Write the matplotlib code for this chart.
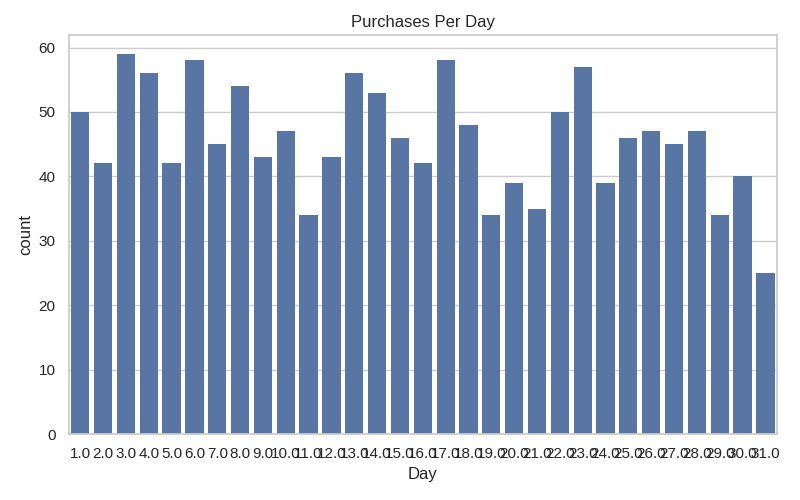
import numpy as np
import matplotlib
matplotlib.use("Agg")
import matplotlib.pyplot as plt
import seaborn as sns

days = [float(d) for d in range(1, 32)]
counts = [50, 42, 59, 56, 42, 58, 45, 54, 43, 47, 34, 43, 56, 53, 46, 42,
          58, 48, 34, 39, 35, 50, 57, 39, 46, 47, 45, 47, 34, 40, 25]
tick_labels = [f"{d:.1f}" for d in days]

sns.set_theme(style="whitegrid")
plt.rcParams["font.family"] = ["Liberation Sans", "DejaVu Sans"]

fig, ax = plt.subplots(figsize=(8, 5), dpi=100)
fig.subplots_adjust(left=0.086, right=0.971, bottom=0.132, top=0.93)

x = np.arange(len(days))
ax.bar(x, counts, width=0.8, color="#5975a4", edgecolor="none")
ax.set_xticks(x)
ax.set_xticklabels(tick_labels)
ax.set_xlim(-0.5, len(days) - 0.5)
ax.set_ylim(0, 61.95)
ax.grid(False, axis="x")
ax.set_axisbelow(True)
ax.set_xlabel("Day")
ax.set_ylabel("count")
ax.set_title("Purchases Per Day")

fig.savefig("out.png", dpi=100)
